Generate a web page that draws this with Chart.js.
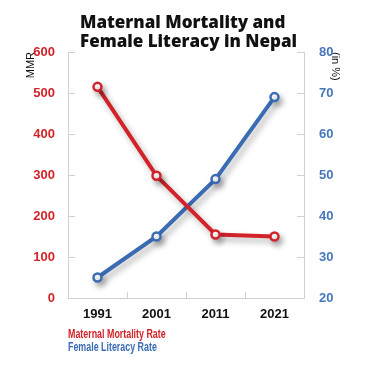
<!DOCTYPE html>
<html><head><meta charset="utf-8">
<script src="https://cdn.jsdelivr.net/npm/chart.js@4"></script>
<style>html,body{margin:0;padding:0;background:#fff}#wrap{width:377px;height:367px}</style>
</head><body><div id="wrap"><canvas id="c" width="377" height="367"></canvas></div>
<script>
const years = ['1991', '2001', '2011', '2021'];
const mmr = [515, 298, 155, 150];
const literacy = [25, 35, 49, 69];
const titleLines = ['Maternal Mortality and', 'Female Literacy in Nepal'];
const seriesNames = ['Maternal Mortality Rate', 'Female Literacy Rate'];

const RED = '#d2232a', BLUE = '#3a6bb3';
const NARROW = "'Liberation Sans', Arial, sans-serif";
const GRID = '#d0d0d0';

const decor = {
  id: 'decor',
  beforeDatasetsDraw(chart) {
    const {ctx, chartArea: a, scales} = chart;
    ctx.save();
    ctx.strokeStyle = GRID; ctx.lineWidth = 1;
    ctx.beginPath();
    scales.y.ticks.forEach(t => {
      const py = Math.round(scales.y.getPixelForValue(t.value)) + 0.5;
      ctx.moveTo(a.left, py); ctx.lineTo(a.left + 7, py);
    });
    scales.y1.ticks.forEach(t => {
      const py = Math.round(scales.y1.getPixelForValue(t.value)) + 0.5;
      ctx.moveTo(a.right, py); ctx.lineTo(a.right - 7, py);
    });
    for (let i = 0; i < years.length - 1; i++) {
      const px = Math.round((scales.x.getPixelForValue(i) + scales.x.getPixelForValue(i + 1)) / 2) + 0.5;
      ctx.moveTo(px, a.bottom); ctx.lineTo(px, a.bottom - 6);
    }
    ctx.stroke();
    ctx.restore();
  },
  beforeDatasetDraw(chart) {
    const ctx = chart.ctx;
    ctx.save();
    ctx.shadowColor = 'rgba(0,0,0,0.3)';
    ctx.shadowBlur = 6; ctx.shadowOffsetX = 3; ctx.shadowOffsetY = 4;
  },
  afterDatasetDraw(chart) { chart.ctx.restore(); },
  afterDraw(chart) {
    const ctx = chart.ctx;
    ctx.save();
    ctx.fillStyle = '#111';
    ctx.textBaseline = 'alphabetic';
    ctx.textAlign = 'left';
    ctx.font = "800 17px 'Open Sans', sans-serif";
    ctx.fillText(titleLines[0], 80, 28);
    ctx.fillText(titleLines[1], 80, 47);
    ctx.font = "bold 12px " + NARROW;
    ctx.textBaseline = 'middle';
    chart.data.datasets.forEach((d, i) => {
      ctx.save();
      ctx.translate(68, 335 + i * 13);
      ctx.scale(0.74, 1);
      ctx.fillStyle = d.borderColor;
      ctx.fillText(d.label, 0, 0);
      ctx.restore();
    });
    ctx.restore();
  }
};

new Chart(document.getElementById('c'), {
  type: 'line',
  data: {
    labels: years,
    datasets: [
      {label: seriesNames[0], data: mmr, yAxisID: 'y', borderColor: RED, backgroundColor: '#fff',
       borderWidth: 4, pointRadius: 4, pointBorderWidth: 2.5, pointBackgroundColor: '#fff', pointBorderColor: RED, tension: 0},
      {label: seriesNames[1], data: literacy, yAxisID: 'y1', borderColor: BLUE, backgroundColor: '#fff',
       borderWidth: 4, pointRadius: 4, pointBorderWidth: 2.5, pointBackgroundColor: '#fff', pointBorderColor: BLUE, tension: 0}
    ]
  },
  options: {
    responsive: false,
    animation: false,
    layout: {padding: {top: 52, bottom: 39, left: 0, right: 0}},
    plugins: {legend: {display: false}, title: {display: false}, tooltip: {enabled: false}},
    scales: {
      x: {
        offset: true,
        grid: {display: false},
        border: {display: true, color: GRID, width: 1},
        ticks: {color: '#111', padding: 1, font: {family: NARROW, size: 13, weight: 'bold'}},
        afterFit(s) { s.height = 30; }
      },
      y: {
        position: 'left', min: 0, max: 600,
        grid: {display: false},
        border: {display: true, color: GRID, width: 1},
        ticks: {stepSize: 100, color: RED, padding: 5, font: {family: NARROW, size: 13, weight: 'bold'}},
        title: {display: true, text: 'MMR', align: 'end', color: '#111', padding: {top: 24, bottom: 0},
                font: {family: NARROW, size: 11}},
        afterFit(s) { s.width = 68; }
      },
      y1: {
        position: 'right', min: 20, max: 80,
        grid: {display: false},
        border: {display: true, color: GRID, width: 1},
        ticks: {stepSize: 10, color: '#4677bd', padding: 7, font: {family: NARROW, size: 13, weight: 'bold'}},
        title: {display: true, text: '(in %)', align: 'end', color: '#111', padding: {top: 35, bottom: 0},
                font: {family: NARROW, size: 11}},
        afterFit(s) { s.width = 73; }
      }
    }
  },
  plugins: [decor]
});
</script>
</body></html>
